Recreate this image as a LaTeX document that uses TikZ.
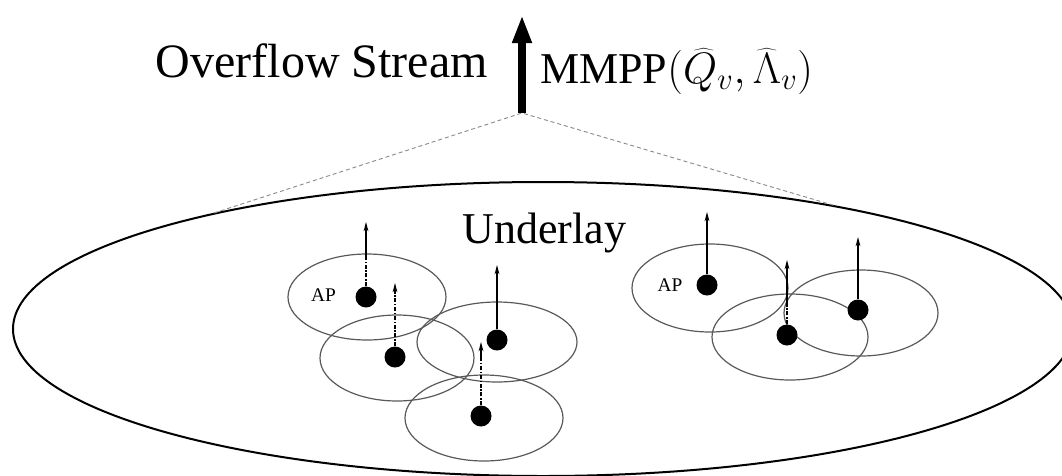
\RequirePackage{fix-cm}
\documentclass[tikz,border=0pt]{standalone}
\usepackage{fontspec}
\setmainfont{Liberation Serif}
\usetikzlibrary{arrows.meta,shapes.geometric}

\begin{document}
\begin{tikzpicture}[x=0.75pt,y=-0.75pt,
  cell/.style={ellipse, draw=black!65, line width=0.9pt, inner sep=0pt,
               minimum width=117pt, minimum height=64.5pt},
  apdot/.style={circle, fill=black, inner sep=0pt, minimum size=15.75pt},
  uplink/.style={line width=1pt, -{Stealth[length=7pt,width=3.6pt]}},
  hidden/.style={line width=1pt, dash pattern=on 3pt off 1.3pt on 1pt off 1.3pt},
  guide/.style={draw=black!45, line width=0.7pt, dash pattern=on 3pt off 2.2pt},
  aplabel/.style={font=\fontsize{14.5}{16}\selectfont, inner sep=0pt},
  bigtext/.style={inner sep=0pt}]

\useasboundingbox (0,0) rectangle (1062,475);
\clip (0,0) rectangle (1062,475);

% the underlay region
\node[ellipse, draw=black, line width=1.5pt, inner sep=0pt,
      minimum width=795pt, minimum height=220.5pt] (underlay) at (543,329) {};
\node[bigtext, anchor=base, font=\fontsize{33}{38}\selectfont] (ulabel) at (544.5,243) {Underlay};

% aggregated overflow stream
\coordinate (apex) at (522,113);
\coordinate (top) at (522,15);
\coordinate (gl) at (214,213);
\coordinate (gr) at (836,206);
\draw[guide] (gl) -- (apex) -- (gr);
\draw[line width=6pt, -{Triangle[length=21pt,width=13.5pt]}] (apex) -- (top);
\node[bigtext, anchor=base east, font=\fontsize{36}{42}\selectfont] (ovf) at (488,77) {Overflow Stream};
\node[bigtext, anchor=base west, font=\fontsize{33}{40}\selectfont] (mmpp) at (540,83)
  {MMPP$(\widehat{Q}_v,\widehat{\Lambda}_v)$};

% left cluster of cells
\node[cell, minimum width=118.5pt, minimum height=64.5pt] (cA) at (367,297) {};
\node[cell, minimum width=115.5pt, minimum height=64.5pt] (cB) at (397,358) {};
\node[cell, minimum width=120pt,   minimum height=60pt]   (cC) at (497,342) {};
\node[cell, minimum width=118.5pt, minimum height=64.5pt] (cD) at (484,418) {};

% right cluster of cells
\node[cell, minimum width=117pt,   minimum height=66pt]   (cE) at (710,288) {};
\node[cell, minimum width=117pt,   minimum height=64.5pt] (cF) at (790,337) {};
\node[cell, minimum width=115.5pt, minimum height=64.5pt] (cG) at (861,313) {};

% access points
\node[apdot] (pA) at (366,297) {};
\node[apdot] (pB) at (395,357) {};
\node[apdot] (pC) at (497,340) {};
\node[apdot] (pD) at (481,416) {};
\node[apdot] (pE) at (707,285) {};
\node[apdot] (pF) at (787,335) {};
\node[apdot] (pG) at (858,310) {};

\node[aplabel] (apL) at (323.5,295) {AP};
\node[aplabel] (apR) at (670,285) {AP};

% per-cell overflow arrows
\coordinate (mA) at (366,257); \coordinate (tA) at (366,222);
\coordinate (mB) at (395,294); \coordinate (tB) at (395,283);
\coordinate (tC) at (497,265);
\coordinate (mD) at (481,358); \coordinate (tD) at (481,342);
\coordinate (tE) at (707,212);
\coordinate (mF) at (787,305); \coordinate (tF) at (787,260);
\coordinate (tG) at (858,237);

\draw[hidden] (pA) -- (mA);  \draw[uplink] (mA) -- (tA);
\draw[hidden] (pB) -- (mB);  \draw[uplink] (mB) -- (tB);
\draw[uplink] (pC) -- (tC);
\draw[hidden] (pD) -- (mD);  \draw[uplink] (mD) -- (tD);
\draw[uplink] (pE) -- (tE);
\draw[hidden] (pF) -- (mF);  \draw[uplink] (mF) -- (tF);
\draw[uplink] (pG) -- (tG);
\end{tikzpicture}
\end{document}
